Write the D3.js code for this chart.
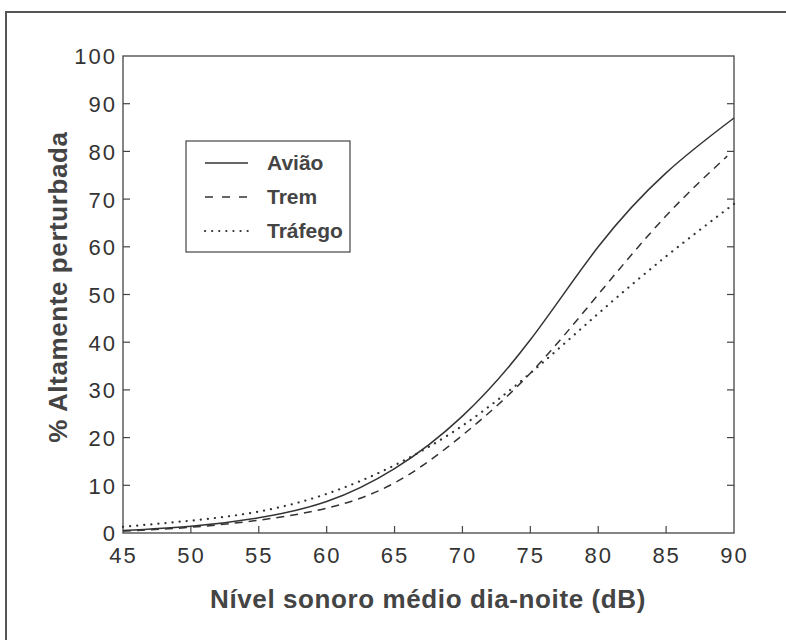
<!DOCTYPE html>
<html>
<head>
<meta charset="utf-8">
<script src="https://cdn.jsdelivr.net/npm/d3@7"></script>
<style>
  body { margin: 0; background: #fff; }
  text { font-family: "Liberation Sans", Arial, sans-serif; }
</style>
</head>
<body>
<div id="chart"></div>
<script>
// values (dB -> % highly annoyed)
const levels = [45, 50, 55, 60, 65, 70, 75, 80, 85, 90]
const aviao = [0.5, 1.4, 3.2, 6.6, 13.5, 24.5, 40.5, 60, 75.5, 87]
const trem = [0.4, 1.2, 2.7, 5.2, 10.5, 20.5, 33.5, 50, 66.5, 79]
const trafego = [1.3, 2.6, 4.5, 8.2, 14.2, 22.5, 33.5, 46, 58, 69]
const xTicks = [45, 50, 55, 60, 65, 70, 75, 80, 85, 90]
const yTicks = [0, 10, 20, 30, 40, 50, 60, 70, 80, 90, 100]
const seriesNames = ["Avião", "Trem", "Tráfego"]

const w = 786
const h = 640
const m = {left: 123, right: 734, top: 56, bottom: 533}
const ink = "#333"

const svg = d3.select("#chart").append("svg")
    .attr("width", w)
    .attr("height", h)

// outer frame of the scanned figure
svg.append("rect")
    .attr("x", 6).attr("y", 12)
    .attr("width", 820).attr("height", 700)
    .attr("fill", "none")
    .attr("stroke", "#555")
    .attr("stroke-width", 2)

const x = d3.scaleLinear().domain([45, 90]).range([m.left, m.right])
const y = d3.scaleLinear().domain([0, 100]).range([m.bottom, m.top])

// plot box
svg.append("rect")
    .attr("x", m.left).attr("y", m.top)
    .attr("width", m.right - m.left).attr("height", m.bottom - m.top)
    .attr("fill", "none")
    .attr("stroke", "#444")
    .attr("stroke-width", 1.3)

const inner = yTicks.filter(d => d > 0 && d < 100)

// left ticks + labels
const left = svg.append("g")
    .attr("transform", "translate(" + m.left + ",0)")
    .call(d3.axisLeft(y).tickValues(yTicks).tickSize(0).tickPadding(6))
left.select(".domain").remove()
left.selectAll("text")
    .attr("font-size", 22)
    .attr("letter-spacing", 2)
    .attr("fill", ink)
    .attr("dy", "0.36em")

svg.append("g").selectAll("line")
    .data(inner).enter().append("line")
    .attr("x1", m.left).attr("x2", m.left + 7)
    .attr("y1", d => y(d)).attr("y2", d => y(d))
    .attr("stroke", "#444").attr("stroke-width", 1.2)

// right ticks
svg.append("g").selectAll("line")
    .data(inner).enter().append("line")
    .attr("x1", m.right - 7).attr("x2", m.right)
    .attr("y1", d => y(d)).attr("y2", d => y(d))
    .attr("stroke", "#444").attr("stroke-width", 1.2)

// bottom ticks + labels
const bottom = svg.append("g")
    .attr("transform", "translate(0," + m.bottom + ")")
    .call(d3.axisBottom(x).tickValues(xTicks).tickSize(0).tickPadding(14))
bottom.select(".domain").remove()
bottom.selectAll("text")
    .attr("font-size", 22)
    .attr("letter-spacing", 2)
    .attr("fill", ink)

svg.append("g").selectAll("line")
    .data(xTicks.filter(d => d > 45 && d < 90)).enter().append("line")
    .attr("x1", d => x(d)).attr("x2", d => x(d))
    .attr("y1", m.bottom).attr("y2", m.bottom - 7)
    .attr("stroke", "#444").attr("stroke-width", 1.2)

// axis titles
svg.append("text")
    .attr("x", 428)
    .attr("y", 608)
    .attr("text-anchor", "middle")
    .attr("font-size", 26)
    .attr("font-weight", "bold")
    .attr("letter-spacing", 0.6)
    .attr("fill", "#444")
    .text("Nível sonoro médio dia-noite (dB)")

svg.append("text")
    .attr("transform", "translate(67," + 287 + ") rotate(-90)")
    .attr("text-anchor", "middle")
    .attr("font-size", 26)
    .attr("font-weight", "bold")
    .attr("letter-spacing", 0.6)
    .attr("fill", "#444")
    .text("% Altamente perturbada")

// curves
const styles = [
    {data: aviao, dash: null, cap: "butt"},
    {data: trem, dash: "8,6", cap: "butt"},
    {data: trafego, dash: "0.1,7", cap: "round"}
]

const line = d3.line()
    .x(d => x(d[0]))
    .y(d => y(d[1]))
    .curve(d3.curveNatural)

styles.forEach((s, i) => {
    let pts = levels.map((l, j) => [l, s.data[j]])
    if (i === 1) pts[pts.length - 1][0] = 89.5
    svg.append("path")
        .datum(pts)
        .attr("d", line)
        .attr("fill", "none")
        .attr("stroke", ink)
        .attr("stroke-width", i === 2 ? 2.2 : 1.5)
        .attr("stroke-linecap", s.cap)
        .attr("stroke-dasharray", s.dash)
})

// legend
const lg = svg.append("g")
lg.append("rect")
    .attr("x", 186).attr("y", 141)
    .attr("width", 164).attr("height", 111)
    .attr("fill", "#fff")
    .attr("stroke", "#444")
    .attr("stroke-width", 1.2)

seriesNames.forEach((name, i) => {
    const ly = 163 + i * 34
    lg.append("line")
        .attr("x1", 205).attr("x2", 248)
        .attr("y1", ly).attr("y2", ly)
        .attr("stroke", ink)
        .attr("stroke-width", i === 2 ? 2.2 : 1.5)
        .attr("stroke-linecap", styles[i].cap)
        .attr("stroke-dasharray", i === 1 ? "8,9" : styles[i].dash)
    lg.append("text")
        .attr("x", 267).attr("y", ly + 7)
        .attr("font-size", 21)
        .attr("font-weight", "bold")
        .attr("fill", "#444")
        .text(name)
})
</script>
</body>
</html>
